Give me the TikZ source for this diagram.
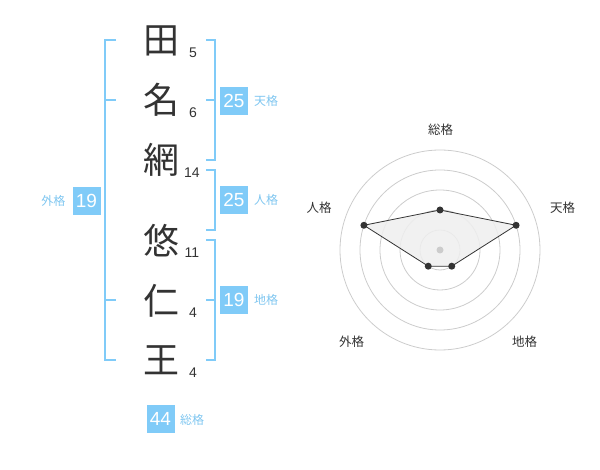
\documentclass[tikz,border=0pt]{standalone}
\usepackage{fontspec}
\setmainfont{Liberation Sans}
\newfontfamily\jp{Noto Sans CJK JP}
\definecolor{brk}{HTML}{80CBF8}
\definecolor{boxb}{HTML}{80CBF8}
\definecolor{lblb}{HTML}{7FC6F0}
\definecolor{ink}{HTML}{333333}
\definecolor{ring}{HTML}{CCCCCC}
\definecolor{polyfill}{HTML}{EFEFEF}
\tikzset{
  brline/.style={draw=brk, line width=2pt},
  kanji/.style={font=\jp\fontsize{36}{36}\selectfont, text=ink, inner sep=0pt},
  strokenum/.style={font=\fontsize{14}{14}\selectfont, text=ink, inner sep=0pt},
  numbox/.style={fill=boxb, text=white, minimum width=28pt, minimum height=28pt, inner sep=0pt, font=\fontsize{19}{19}\selectfont},
  lbl/.style={text=lblb, font=\jp\fontsize{12}{12}\selectfont, inner sep=0pt},
  rlbl/.style={text=ink, font=\jp\fontsize{12.5}{12.5}\selectfont, inner sep=0pt},
  ringc/.style={draw=ring, line width=0.8pt},
  vdot/.style={circle, fill=ink, inner sep=0pt, minimum size=7pt},
}
\begin{document}
\begin{tikzpicture}[x=1pt, y=-1pt]
\useasboundingbox (0,0) rectangle (600,470);
% kanji
\node[kanji] (k1) at (161,41) {田};
\node[kanji] (k2) at (161,100) {名};
\node[kanji] (k3) at (161,160) {網};
\node[kanji] (k4) at (161,241) {悠};
\node[kanji] (k5) at (161,301) {仁};
\node[kanji] (k6) at (161,360) {王};
% stroke counts
\node[strokenum] (s1) at (193,53) {5};
\node[strokenum] (s2) at (193,113) {6};
\node[strokenum] (s3) at (192,173) {14};
\node[strokenum] (s4) at (192,253) {11};
\node[strokenum] (s5) at (193,313) {4};
\node[strokenum] (s6) at (193,373) {4};
% brackets
\draw[brline] (116,40) -- (105,40) -- (105,360) -- (116,360);
\draw[brline] (105,100) -- (116,100);
\draw[brline] (105,300) -- (116,300);
\draw[brline] (206,40) -- (215,40) -- (215,160) -- (206,160);
\draw[brline] (206,100) -- (215,100);
\draw[brline] (206,170) -- (215,170) -- (215,230) -- (206,230);
\draw[brline] (206,240) -- (215,240) -- (215,360) -- (206,360);
\draw[brline] (206,300) -- (215,300);
% boxes
\node[numbox] (b1) at (234,101) {25};
\node[lbl] (l1) at (266,101) {天格};
\node[numbox] (b2) at (234,200) {25};
\node[lbl] (l2) at (266,200) {人格};
\node[numbox] (b3) at (234,300) {19};
\node[lbl] (l3) at (266,300) {地格};
\node[numbox] (b4) at (86.5,201) {19};
\node[lbl] (l4) at (53.5,201) {外格};
\node[numbox] (b5) at (160.5,419) {44};
\node[lbl] (l5) at (192,420) {総格};
% radar
\begin{scope}[shift={(440,250)}, yscale=-1]
  \foreach \r in {20,40,60,80,100} \draw[ringc] (0,0) circle (\r);
  \coordinate (pS) at (90:40);
  \coordinate (pT) at (18:80);
  \coordinate (pC) at (-54:20);
  \coordinate (pG) at (-126:20);
  \coordinate (pJ) at (162:80);
  \draw[fill=polyfill, fill opacity=0.85, draw=ink, line width=0.8pt] (pS) -- (pT) -- (pC) -- (pG) -- (pJ) -- cycle;
  \node[circle, fill=ring, inner sep=0pt, minimum size=7pt] (cen) at (0,0) {};
  \node[vdot] (dS) at (pS) {};
  \node[vdot] (dT) at (pT) {};
  \node[vdot] (dC) at (pC) {};
  \node[vdot] (dG) at (pG) {};
  \node[vdot] (dJ) at (pJ) {};
\end{scope}
\node[rlbl] (rS) at (440.5,130) {総格};
\node[rlbl] (rT) at (562.5,208) {天格};
\node[rlbl] (rJ) at (319,208) {人格};
\node[rlbl] (rG) at (351.5,342) {外格};
\node[rlbl] (rC) at (524.5,342) {地格};
\end{tikzpicture}
\end{document}
